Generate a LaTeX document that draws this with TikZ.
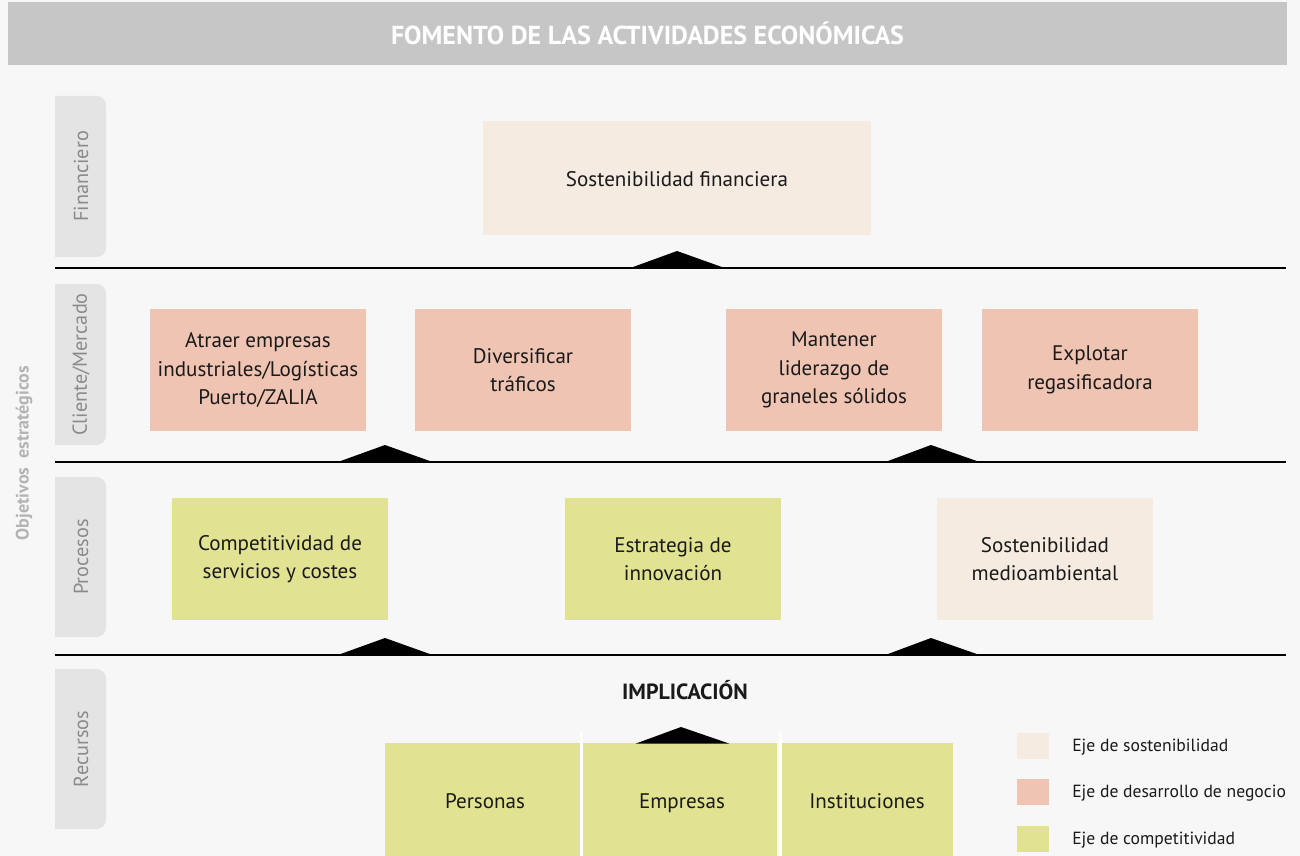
\documentclass[tikz,border=0pt]{standalone}
\usepackage{fontspec}
\setmainfont{PT Sans}
\definecolor{bgc}{HTML}{F7F7F7}
\definecolor{headc}{HTML}{C6C6C6}
\definecolor{tabc}{HTML}{E4E4E4}
\definecolor{tabtxt}{HTML}{8A8A8A}
\definecolor{objtxt}{HTML}{B3B3B3}
\definecolor{sostc}{HTML}{F6EBE1}
\definecolor{negc}{HTML}{F0C4B3}
\definecolor{compc}{HTML}{E1E292}
\definecolor{txtc}{HTML}{1A1A1A}
\begin{document}
\begin{tikzpicture}[x=0.75pt,y=-0.75pt,
  box/.style={inner sep=0pt, align=center, text=txtc, font=\fontsize{15.8}{21.5}\selectfont},
  nbox/.style={box, fill=negc, minimum width=162pt, minimum height=91.5pt},
  pbox/.style={box, minimum width=162pt, minimum height=91.5pt},
  rbox/.style={box, fill=compc, minimum height=84.75pt},
  rlbl/.style={inner sep=0pt, text=txtc, font=\fontsize{15.8}{21.5}\selectfont, text height=11.5pt, text depth=3.5pt},
  tablbl/.style={rotate=90, text=tabtxt, font=\fontsize{15.2}{18}\selectfont},
  tabshape/.style={fill=tabc},
  sep/.style={line width=1.3pt, black},
  tri/.style={fill=black},
  legsq/.style={inner sep=0pt, minimum width=24pt, minimum height=19.5pt},
  legtxt/.style={anchor=west, inner sep=0pt, text=txtc, font=\fontsize{13.2}{15}\selectfont}
]
\useasboundingbox (0,0) rectangle (1300,856);
\fill[bgc] (0,0) rectangle (1300,856);

% header
\node[fill=headc, minimum width=959.25pt, minimum height=47.25pt, inner sep=0pt,
  text=white, font=\fontsize{19.5}{22}\selectfont\bfseries] (head) at (647.5,33.5)
  {FOMENTO DE LAS ACTIVIDADES ECONÓMICAS};

% side tabs
\foreach \ya/\yb/\nm/\lbl in {96/257/tfin/Financiero, 284/445/tcli/Cliente\slash Mercado, 477/637/tpro/Procesos, 669/829/trec/Recursos}{
  \fill[tabshape, rounded corners=7pt] (40,\ya) rectangle (106,\yb);
  \fill[tabshape] (55,\ya) rectangle (80,\yb);
  \node[tablbl] (\nm) at (81,{(\ya+\yb)/2}) {\lbl};
}
\fill[bgc] (30,90) rectangle (55,835);

% objetivos estrategicos
\node[rotate=90, text=objtxt, font=\fontsize{13.5}{15}\selectfont\bfseries] (obj) at (24,453) {Objetivos\ \ estratégicos};

% separator lines
\coordinate (l1a) at (55,268); \coordinate (l1b) at (1286,268);
\coordinate (l2a) at (55,462); \coordinate (l2b) at (1286,462);
\coordinate (l3a) at (55,655); \coordinate (l3b) at (1286,655);
\draw[sep] (l1a) -- (l1b);
\draw[sep] (l2a) -- (l2b);
\draw[sep] (l3a) -- (l3b);

% Financiero
\node[box, fill=sostc, minimum width=291pt, minimum height=85.5pt] (fin) at (677,178) {};
\node[box] (fint) at (677,179.5) {Sostenibilidad financiera};
\fill[tri] (629,268.5) -- (677,251) -- (726,268.5) -- cycle;

% Cliente/Mercado
\node[nbox] (c1) at (258,370) {Atraer empresas\\industriales/Logísticas\\Puerto/ZALIA};
\node[nbox] (c2) at (523,370) {Diversificar\\tráficos};
\node[nbox] (c3) at (834,370) {Mantener\\liderazgo de\\graneles sólidos};
\node[nbox] (c4) at (1090,370) {Explotar\\regasificadora};
\fill[tri] (336.5,462.5) -- (385,445) -- (434,462.5) -- cycle;
\fill[tri] (884,462.5) -- (931,445) -- (981,462.5) -- cycle;

% Procesos
\node[pbox, fill=compc] (p1) at (280,559) {Competitividad de\\servicios y costes};
\node[pbox, fill=compc] (p2) at (673,559) {Estrategia de\\innovación};
\node[pbox, fill=sostc] (p3) at (1045,559) {Sostenibilidad\\medioambiental};
\fill[tri] (336.5,655.5) -- (385,638) -- (434,655.5) -- cycle;
\fill[tri] (884,655.5) -- (931,638) -- (981,655.5) -- cycle;

% Recursos
\node[font=\fontsize{16.5}{19}\selectfont\bfseries, text=txtc] (impl) at (685,690) {IMPLICACIÓN};
\node[rbox, minimum width=146.25pt] (r1) at (482.5,799.5) {};
\node[rbox, minimum width=145.5pt] (r2) at (680,799.5) {};
\node[rbox, minimum width=129.75pt] (r3) at (866.5,799.5) {};
\node[rlbl] (r1t) at (485,803) {Personas};
\node[rlbl] (r2t) at (682,803) {Empresas};
\node[rlbl] (r3t) at (867,803) {Instituciones};
\fill[tri] (636,743.5) -- (681,727) -- (729,743.5) -- cycle;
\fill[white] (579.5,733) rectangle (582.5,856);
\fill[white] (778.5,733) rectangle (781.5,856);

% legend
\node[legsq, fill=sostc] (lg1) at (1033,746) {};
\node[legsq, fill=negc] (lg2) at (1033,792) {};
\node[legsq, fill=compc] (lg3) at (1033,839) {};
\node[legtxt] (lt1) at (1072,747.5) {Eje de sostenibilidad};
\node[legtxt] (lt2) at (1072,793.5) {Eje de desarrollo de negocio};
\node[legtxt] (lt3) at (1072,840.5) {Eje de competitividad};
\end{tikzpicture}
\end{document}
